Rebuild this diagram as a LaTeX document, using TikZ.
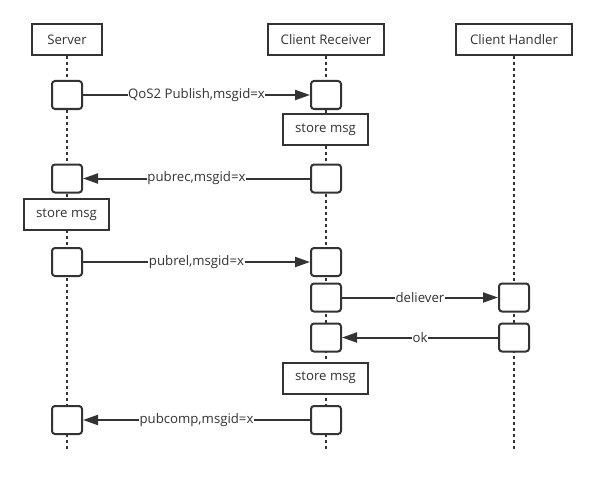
\documentclass[tikz,border=0pt]{standalone}
\usepackage{fontspec}
\setmainfont{Open Sans}
\usetikzlibrary{arrows.meta}
\definecolor{ink}{HTML}{333333}
\begin{document}
\begin{tikzpicture}[x=1pt,y=-1pt,
  every node/.style={font=\fontsize{13.2}{15}\selectfont, text=ink},
  actor/.style={draw=ink, line width=2pt, fill=white, minimum width=#1, minimum height=31pt, inner sep=0pt},
  act/.style={draw=ink, line width=2pt, fill=white, rounded corners=3pt, minimum width=30pt, minimum height=28pt, inner sep=0pt},
  storebox/.style={draw=ink, line width=2pt, fill=white, minimum width=85pt, minimum height=31pt, inner sep=0pt},
  life/.style={draw=ink, line width=2pt, dash pattern=on 3pt off 3pt},
  msg/.style={draw=ink, line width=2pt, -{Triangle[length=15pt,width=10pt]}},
  lbl/.style={fill=white, inner sep=0.5pt}
]
\useasboundingbox (0,0) rectangle (596,476);
% lifeline ends
\coordinate (sE) at (67,449);
\coordinate (rE) at (326,449);
\coordinate (hE) at (514,449);
% actors
\node[actor=70pt] (srv) at (67,39.5) {Server};
\node[actor=116pt] (rcv) at (326,39.5) {Client Receiver};
\node[actor=116pt] (hdl) at (514,39.5) {Client Handler};
% lifelines
\draw[life] (srv.south) -- (sE);
\draw[life] (rcv.south) -- (rE);
\draw[life] (hdl.south) -- (hE);
% activations and notes
\node[act] (s1) at (67,95) {};
\node[act] (r1) at (326,95) {};
\node[storebox] (rs1) at (325.5,129.5) {store msg};
\node[act] (s2) at (67,178.5) {};
\node[act] (r2) at (326,178.5) {};
\node[storebox] (ss1) at (66.5,214.5) {store msg};
\node[act] (s3) at (67,262) {};
\node[act] (r3) at (326,262) {};
\node[act] (r4) at (326,297.5) {};
\node[act] (h1) at (514,297.5) {};
\node[act] (r5) at (326,337.5) {};
\node[act] (h2) at (514,337.5) {};
\node[storebox] (rs2) at (325.5,378) {store msg};
\node[act] (s4) at (67,420) {};
\node[act] (r6) at (326,420) {};
% messages
\draw[msg] (s1) -- node[lbl] {QoS2 Publish,msgid=x} (r1);
\draw[msg] (r2) -- node[lbl] {pubrec,msgid=x} (s2);
\draw[msg] (s3) -- node[lbl] {pubrel,msgid=x} (r3);
\draw[msg] (r4) -- node[lbl] {deliever} (h1);
\draw[msg] (h2) -- node[lbl] {ok} (r5);
\draw[msg] (r6) -- node[lbl] {pubcomp,msgid=x} (s4);
\end{tikzpicture}
\end{document}
